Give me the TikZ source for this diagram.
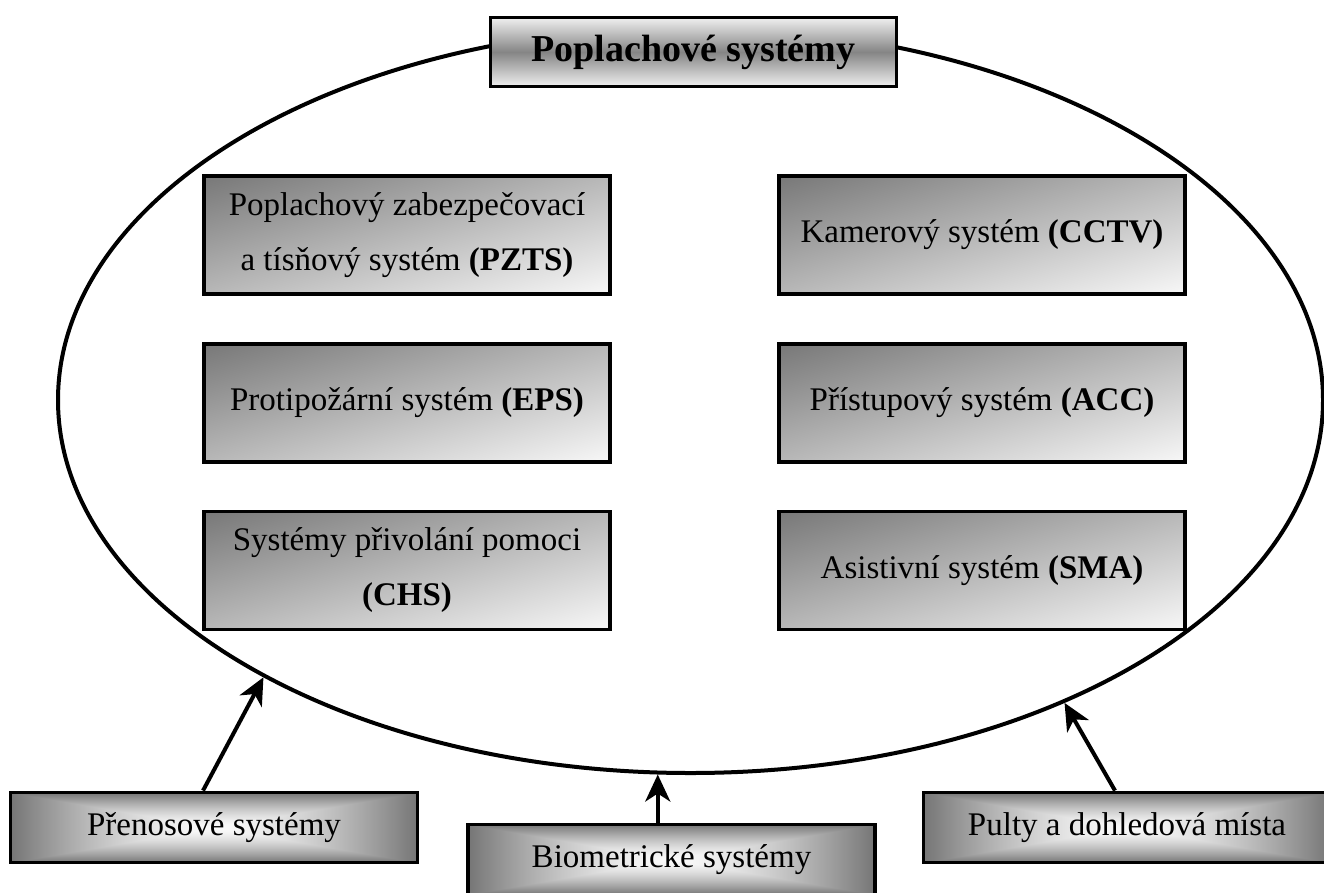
\documentclass[tikz,border=0pt]{standalone}
\usepackage{fontspec}
\setmainfont{Liberation Serif}
\usetikzlibrary{shapes.geometric,arrows.meta}

\definecolor{bandmid}{gray}{0.52}
\definecolor{bandedge}{gray}{0.94}

% pgf fits a path to the central 50bp square of a shading, so both
% functions below are normalised to the range -25bp..25bp
% dark upper-left corner fading to a light lower-right corner
\pgfdeclarefunctionalshading{cornerfade}{\pgfpoint{-50bp}{-50bp}}{\pgfpoint{50bp}{50bp}}{}{sub 50 div 1 add 2 div 0.5 mul 0.47 add dup dup}
% white centre fading to grey towards all four edges
\pgfdeclarefunctionalshading{glowbox}{\pgfpoint{-50bp}{-50bp}}{\pgfpoint{50bp}{50bp}}{}{abs exch abs 2 copy lt {exch} if pop 25 div dup sqrt mul 0.52 mul 0.98 exch sub dup dup}

\begin{document}
\begin{tikzpicture}[x=1pt,y=-1pt,
  sysbox/.style={draw, line width=3.8pt, minimum width=406pt, minimum height=118pt,
    inner sep=0pt, align=center, font=\fontsize{33}{55}\selectfont,
    shade, shading=cornerfade},
  titlebox/.style={draw, line width=3.8pt, minimum width=406pt, minimum height=69pt,
    inner sep=0pt, font=\fontsize{38}{44}\selectfont\bfseries,
    top color=bandedge, bottom color=bandedge, middle color=bandmid},
  feedbox/.style={draw, line width=3.8pt, minimum width=407pt, minimum height=70pt,
    inner sep=0pt, font=\fontsize{33}{40}\selectfont, shade, shading=glowbox},
  link/.style={line width=4pt, -{Stealth[length=27pt,width=25pt,inset=8pt]}}
]
\useasboundingbox (0,0) rectangle (1324,892);

% the enclosing ring
\node[draw, ellipse, line width=4pt, minimum width=1265pt, minimum height=746pt,
  inner sep=0pt] (ring) at (690.5,400) {};

\node[titlebox] (title) at (693.5,52) {Poplachové systémy};

% alarm systems inside the ring
\node[sysbox] (pzts) at (407,235) {Poplachový zabezpečovací\\a tísňový systém \textbf{(PZTS)}};
\node[sysbox] (eps)  at (407,403) {Protipožární systém \textbf{(EPS)}};
\node[sysbox] (chs)  at (407,570.5) {Systémy přivolání pomoci\\\textbf{(CHS)}};
\node[sysbox] (cctv) at (982,235) {Kamerový systém \textbf{(CCTV)}};
\node[sysbox] (acc)  at (982,403) {Přístupový systém \textbf{(ACC)}};
\node[sysbox] (sma)  at (982,570.5) {Asistivní systém \textbf{(SMA)}};

% supporting systems below
\node[feedbox] (prenos) at (214,827.5) {Přenosové systémy};
\node[feedbox] (bio)    at (671.5,859.5) {Biometrické systémy};
\node[feedbox] (pulty)  at (1127,827.5) {Pulty a dohledová místa};

\draw[link] ([xshift=-11pt]prenos.north) -- (ring.213.18);
\draw[link] (bio.north -| ring.265.05) -- (ring.265.05);
\draw[link] ([xshift=-12pt]pulty.north) -- (ring.321.7);
\end{tikzpicture}
\end{document}
